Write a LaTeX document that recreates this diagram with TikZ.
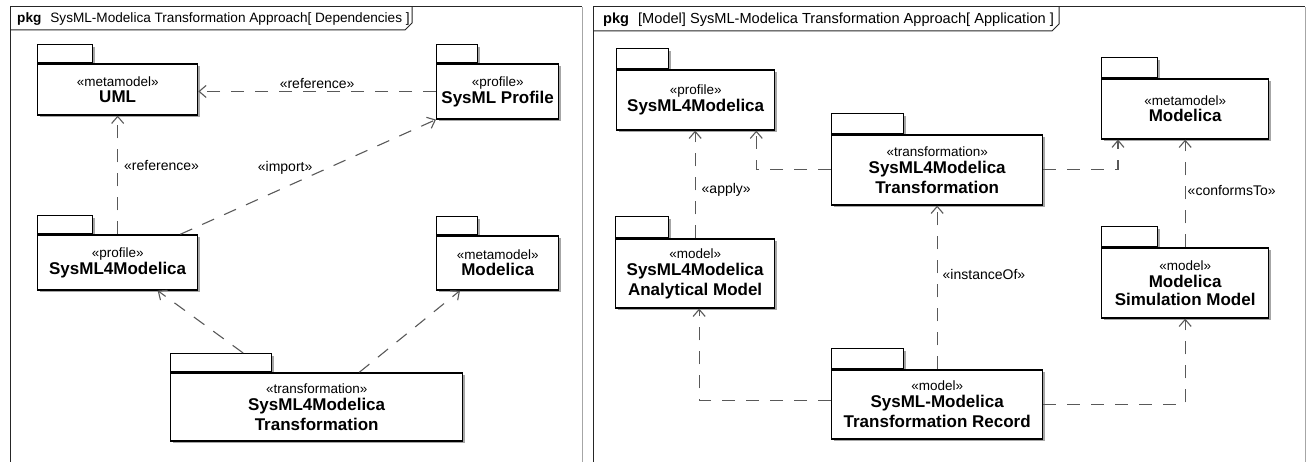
\documentclass[tikz,border=0pt]{standalone}
\usepackage{fontspec}
\setmainfont{Liberation Sans}
\usetikzlibrary{positioning,arrows.meta,shadows}

\newcommand{\stfont}{\fontsize{13.5}{15}\selectfont}
\newcommand{\nmfont}{\fontsize{17}{20}\selectfont\bfseries}
\newcommand{\lbfont}{\fontsize{14}{16}\selectfont}

\tikzset{
  shd/.style={drop shadow={shadow xshift=2pt,shadow yshift=-2pt,fill=black!35,opacity=1}},
  pkgtab/.style={draw=black,line width=1.3pt,fill=white,shd,anchor=north west,inner sep=0pt},
  pkgbody/.style={draw=black,line width=1.3pt,fill=white,shd,inner sep=0pt,align=center,font=\stfont},
  dep/.style={draw=black!65,line width=1.1pt,dash pattern=on 13pt off 11pt,-{Straight Barb[length=7pt,width=12pt]}},
  lbl/.style={font=\lbfont,inner sep=2pt,text=black},
  frm/.style={draw=black!85,line width=1pt},
}

\begin{document}
\begin{tikzpicture}[x=1pt,y=-1pt]
\useasboundingbox (0,0) rectangle (1311,462);
\foreach \l/\r in {10/582,593/1305} % the two frames
\draw[frm] (\l,470) |- (\r,7);
\foreach \r in {582,1305}
\draw[frm,draw=black!35] (\r,7) -- (\r,470);
\draw[frm] (10,30) -- (405,30) -- (412,23) -- (412,7);
\draw[frm] (593,31) -- (1052,31) -- (1059,24) -- (1059,7);
\node[anchor=west,inner sep=0pt,font=\fontsize{13.6}{16}\selectfont] (ttl-dep) at (17,19) {\textbf{pkg}\hspace{9pt}SysML-Modelica Transformation Approach[ Dependencies ]};
\node[anchor=west,inner sep=0pt,font=\fontsize{14.6}{16}\selectfont] (ttl-app) at (603,20) {\textbf{pkg}\hspace{9pt}[Model] SysML-Modelica Transformation Approach[ Application ]};

% Dependencies
\node[pkgtab,minimum width=55pt,minimum height=18pt] (uml-tab) at (37,44) {};
\node[pkgbody,minimum width=160pt,minimum height=51pt,below right=0pt and 0pt of uml-tab.south west] (uml) {«metamodel»\\[1pt]\nmfont UML};
\node[pkgtab,minimum width=41pt,minimum height=18pt] (sysprof-tab) at (436,44) {};
\node[pkgbody,minimum width=122pt,minimum height=55pt,below right=0pt and 0pt of sysprof-tab.south west] (sysprof) {«profile»\\[1pt]\nmfont SysML Profile};
\node[pkgtab,minimum width=55pt,minimum height=18pt] (s4m-tab) at (37,215) {};
\node[pkgbody,minimum width=160pt,minimum height=55pt,below right=0pt and 0pt of s4m-tab.south west] (s4m) {«profile»\\[1pt]\nmfont SysML4Modelica};
\node[pkgtab,minimum width=41pt,minimum height=18pt] (modl-tab) at (436,216) {};
\node[pkgbody,minimum width=122pt,minimum height=54pt,below right=0pt and 0pt of modl-tab.south west] (modl) {«metamodel»\\[1pt]\nmfont Modelica};
\node[pkgtab,minimum width=101pt,minimum height=18pt] (trl-tab) at (170,353) {};
\node[pkgbody,minimum width=292pt,minimum height=68pt,below right=0pt and 0pt of trl-tab.south west] (trl) {«transformation»\\[2pt]\nmfont SysML4Modelica\\[3pt]\nmfont Transformation};

\draw[dep] (sysprof.west) -- (sysprof.west -| uml.east) node[lbl,midway,above]{«reference»};
\draw[dep] (s4m.north) -- (uml.south) node[lbl,pos=.58,right=4pt]{«reference»};
\draw[dep] ([xshift=-18pt]s4m.north east) -- (sysprof.south west) node[lbl,pos=.41,yshift=19pt]{«import»};
\draw[dep] ([xshift=22pt]trl-tab.north) -- ([xshift=40pt]s4m.south);
\draw[dep] ([xshift=-104pt]trl.north east) -- ([xshift=24pt]modl.south west);

% Application
\node[pkgtab,minimum width=52pt,minimum height=20pt] (prof-tab) at (616,48) {};
\node[pkgbody,minimum width=158pt,minimum height=60pt,below right=0pt and 0pt of prof-tab.south west] (prof) {«profile»\\[1pt]\nmfont SysML4Modelica};
\node[pkgtab,minimum width=72pt,minimum height=20pt] (trr-tab) at (831,113) {};
\node[pkgbody,minimum width=211pt,minimum height=70pt,below right=0pt and 0pt of trr-tab.south west] (trr) {«transformation»\\[2pt]\nmfont SysML4Modelica\\[3pt]\nmfont Transformation};
\node[pkgtab,minimum width=56pt,minimum height=20pt] (modr-tab) at (1101,57) {};
\node[pkgbody,minimum width=167pt,minimum height=60pt,below right=0pt and 0pt of modr-tab.south west] (modr) {«metamodel»\\[1pt]\nmfont Modelica};
\node[pkgtab,minimum width=53pt,minimum height=21pt] (anl-tab) at (615,216) {};
\node[pkgbody,minimum width=159pt,minimum height=69pt,below right=0pt and 0pt of anl-tab.south west] (anl) {«model»\\[2pt]\nmfont SysML4Modelica\\[3pt]\nmfont Analytical Model};
\node[pkgtab,minimum width=56pt,minimum height=20pt] (sim-tab) at (1101,226) {};
\node[pkgbody,minimum width=167pt,minimum height=70pt,below right=0pt and 0pt of sim-tab.south west] (sim) {«model»\\[2pt]\nmfont Modelica\\[3pt]\nmfont Simulation Model};
\node[pkgtab,minimum width=72pt,minimum height=20pt] (rec-tab) at (831,348) {};
\node[pkgbody,minimum width=211pt,minimum height=69pt,below right=0pt and 0pt of rec-tab.south west] (rec) {«model»\\[2pt]\nmfont SysML-Modelica\\[3pt]\nmfont Transformation Record};

\draw[dep] (anl.north) -- (anl.north |- prof.south) node[lbl,pos=.45,right=4pt]{«apply»};
\draw[dep] (trr.west) -| ([xshift=-19pt]prof.south east);
\draw[dep] (trr.east) -| ([xshift=17pt]modr.south west);
\draw[dep] (sim.north) -- (modr.south) node[lbl,pos=.53,right=0pt]{«conformsTo»};
\draw[dep] (rec.north) -- (trr.south) node[lbl,pos=.58,right=3pt]{«instanceOf»};
\draw[dep] ([yshift=4pt]rec.west) -| ([xshift=4pt]anl.south);
\draw[dep] (rec.east) -| (sim.south);
\end{tikzpicture}
\end{document}
